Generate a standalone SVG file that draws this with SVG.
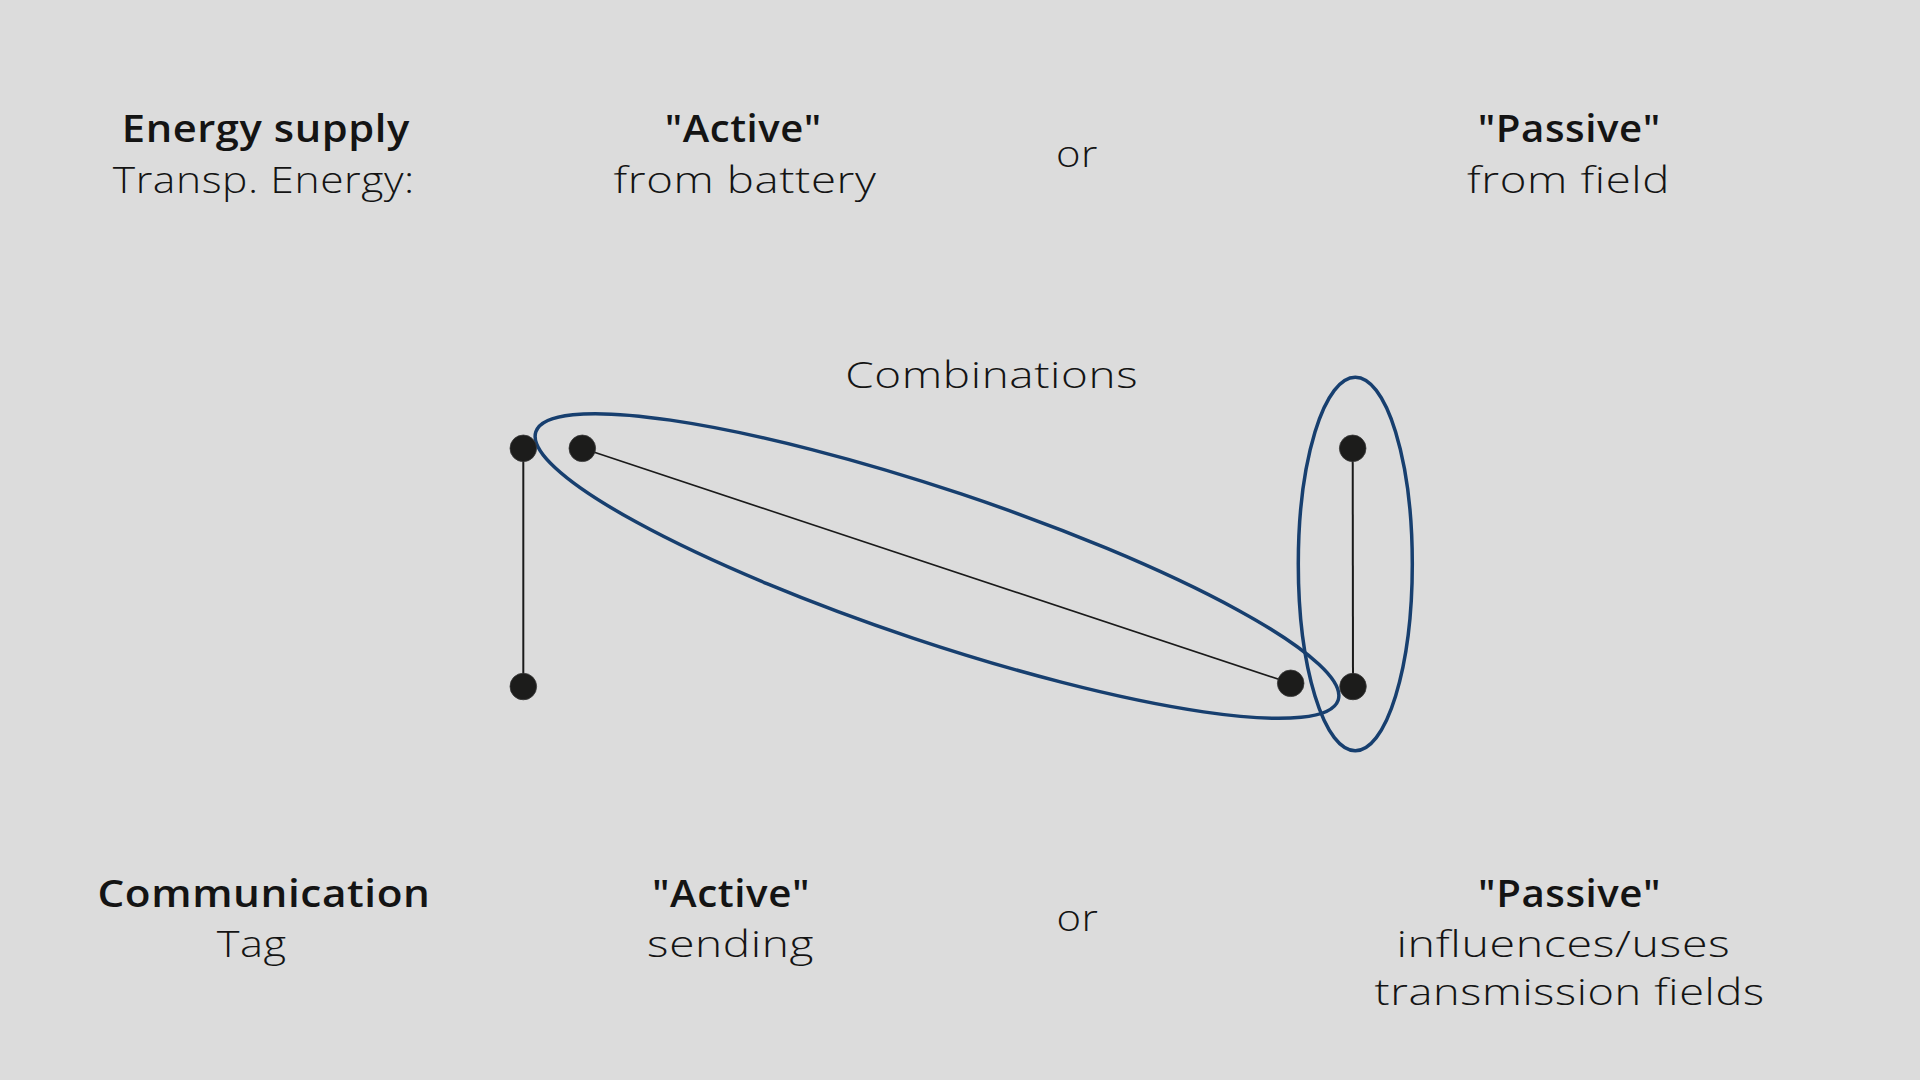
<svg xmlns="http://www.w3.org/2000/svg" width="1920" height="1080" viewBox="0 0 1920 1080">
<style>
text{font-family:"Open Sans","Liberation Sans",sans-serif;font-size:37px;fill:#141414;text-anchor:middle;letter-spacing:0.5px}
.b{font-weight:600}
.l{font-weight:300}
.dot{fill:#1c1c1b;stroke:#3a3a3a;stroke-width:0.8}
.ring{fill:none;stroke:#173f6f;stroke-width:3.5}
.edge{stroke:#1a1a1a;fill:none}
</style>
<rect width="1920" height="1080" fill="#dcdcdc"/>
<g id="connectors">
<line class="edge" x1="523.3" y1="448.3" x2="523.3" y2="686.5" stroke-width="2"/>
<line class="edge" x1="582.3" y1="448.3" x2="1290.7" y2="683.3" stroke-width="1.6"/>
<line class="edge" x1="1352.7" y1="448.3" x2="1353" y2="686.5" stroke-width="2"/>
</g>
<g id="groups">
<ellipse id="combo-active-passive" class="ring" cx="937" cy="566" rx="423" ry="76" transform="rotate(18.5 937 566)"/>
<ellipse id="combo-passive-passive" class="ring" cx="1355.3" cy="564" rx="57" ry="186.7"/>
</g>
<g id="node-energy-active"><circle class="dot" cx="523.3" cy="448.3" r="13.3"/></g>
<g id="node-energy-active-2"><circle class="dot" cx="582.3" cy="448.3" r="13.3"/></g>
<g id="node-comm-active"><circle class="dot" cx="523.3" cy="686.5" r="13.3"/></g>
<g id="node-comm-active-2"><circle class="dot" cx="1290.7" cy="683.3" r="13.3"/></g>
<g id="node-energy-passive"><circle class="dot" cx="1352.7" cy="448.3" r="13.3"/></g>
<g id="node-comm-passive"><circle class="dot" cx="1353" cy="686.5" r="13.3"/></g>
<g id="labels">
<text class="b" x="265.8" y="141.7" textLength="288" lengthAdjust="spacingAndGlyphs">Energy supply</text>
<text class="l" x="263.8" y="193.3" textLength="302" lengthAdjust="spacingAndGlyphs">Transp. Energy:</text>
<text class="b" x="743.3" y="141.7" textLength="157" lengthAdjust="spacingAndGlyphs">"Active"</text>
<text class="l" x="745" y="193.3" textLength="263" lengthAdjust="spacingAndGlyphs">from battery</text>
<text class="l" x="1077" y="166.7" textLength="42" lengthAdjust="spacingAndGlyphs">or</text>
<text class="b" x="1569.3" y="141.7" textLength="183" lengthAdjust="spacingAndGlyphs">"Passive"</text>
<text class="l" x="1568.5" y="193.3" textLength="203" lengthAdjust="spacingAndGlyphs">from field</text>
<text class="l" x="991.7" y="388.3" textLength="293" lengthAdjust="spacingAndGlyphs">Combinations</text>
<text class="b" x="264" y="906.7" textLength="333" lengthAdjust="spacingAndGlyphs">Communication</text>
<text class="l" x="251.7" y="956.7" textLength="70" lengthAdjust="spacingAndGlyphs">Tag</text>
<text class="b" x="731" y="906.7" textLength="158" lengthAdjust="spacingAndGlyphs">"Active"</text>
<text class="l" x="730.6" y="956.7" textLength="167" lengthAdjust="spacingAndGlyphs">sending</text>
<text class="l" x="1077.5" y="930.7" textLength="42" lengthAdjust="spacingAndGlyphs">or</text>
<text class="b" x="1569.6" y="906.7" textLength="183" lengthAdjust="spacingAndGlyphs">"Passive"</text>
<text class="l" x="1563.4" y="956.7" textLength="334" lengthAdjust="spacingAndGlyphs">influences/uses</text>
<text class="l" x="1569.6" y="1005" textLength="390" lengthAdjust="spacingAndGlyphs">transmission fields</text>
</g>
</svg>
